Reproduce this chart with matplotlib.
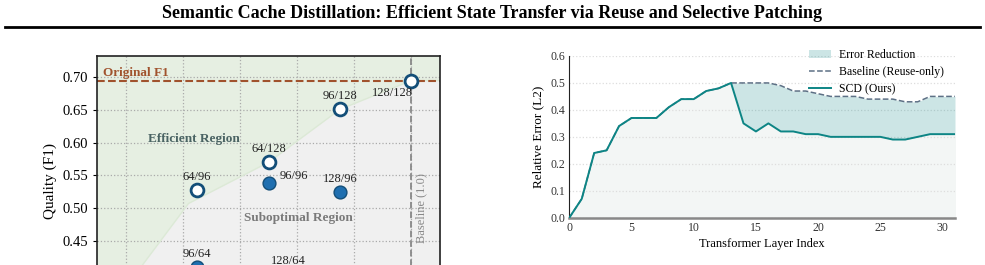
import numpy as np
import matplotlib
matplotlib.use("Agg")
import matplotlib.pyplot as plt

plt.rcParams['font.family'] = ['Liberation Serif', 'DejaVu Serif']

# left panel: configs (retrieve/patch), relative cost, F1
configs = ["128/128", "96/128", "64/128", "64/96", "96/96", "128/96", "96/64", "128/64"]
cost = [1.0, 0.875, 0.75, 0.625, 0.75, 0.875, 0.625, 0.75]
f1 = [0.695, 0.651, 0.570, 0.528, 0.539, 0.525, 0.410, 0.402]
on_front = [True, True, True, True, False, False, False, False]
original_f1 = 0.695
frontier_x = [0.45, 0.61, 0.75, 0.875, 1.0, 1.05]
frontier_y = [0.32, 0.507, 0.570, 0.651, 0.695, 0.695]

# right panel: per-layer relative error
layers = list(range(32))
err_baseline = [0.0, 0.07, 0.24, 0.25, 0.34, 0.37, 0.37, 0.37, 0.41, 0.44, 0.44, 0.47, 0.48, 0.50,
                0.50, 0.50, 0.50, 0.49, 0.47, 0.47, 0.46, 0.45, 0.45, 0.45, 0.44, 0.44, 0.44, 0.43,
                0.43, 0.45, 0.45, 0.45]
err_scd = [0.0, 0.07, 0.24, 0.25, 0.34, 0.37, 0.37, 0.37, 0.41, 0.44, 0.44, 0.47, 0.48, 0.50,
           0.35, 0.32, 0.35, 0.32, 0.32, 0.31, 0.31, 0.30, 0.30, 0.30, 0.30, 0.30, 0.29, 0.29,
           0.30, 0.31, 0.31, 0.31]

W, H = 985, 265
fig = plt.figure(figsize=(W / 100, H / 100), dpi=100)

fig.text(0.5, 1 - 14 / H, "Semantic Cache Distillation: Efficient State Transfer via Reuse and Selective Patching",
         ha='center', va='center', fontsize=13, fontweight='bold')
fig.add_artist(plt.Line2D([5 / W, 980 / W], [1 - 27 / H, 1 - 27 / H], color='black', lw=2))

# ---- left panel (bottom part falls outside the picture, like the reference)
ylo, yhi = 0.35, 0.7326
px_per = 654.0
top_px = 56
bot_px = top_px + (yhi - ylo) * px_per
ax1 = fig.add_axes([97 / W, 1 - bot_px / H, (440 - 97) / W, (bot_px - top_px) / H])
ax1.set_xlim(0.45, 1.05)
ax1.set_ylim(ylo, yhi)

fx = np.array(frontier_x)
fy = np.array(frontier_y)
ax1.fill_between(fx, fy, yhi, color='#e6efe2', zorder=0)
ax1.fill_between(fx, ylo, fy, color='#f0f0f0', zorder=0)
ax1.plot(fx, fy, color='#dce9d6', lw=1, zorder=1)

ax1.set_xticks([0.5, 0.6, 0.7, 0.8, 0.9, 1.0])
ax1.set_yticks([0.40, 0.45, 0.50, 0.55, 0.60, 0.65, 0.70])
ax1.grid(True, linestyle=':', color='#aaaaaa', lw=0.9)
ax1.set_axisbelow(True)
for s in ax1.spines.values():
    s.set_linewidth(1.2)
    s.set_color('#222222')
ax1.tick_params(labelsize=10.5, length=3)
ax1.set_ylabel("Quality (F1)", fontsize=11)

ax1.axhline(original_f1, color='#a0522d', ls='--', lw=1.5, zorder=2)
ax1.text(0.46, original_f1 + 0.002, "Original F1", color='#a0522d', fontsize=9.5,
         fontweight='bold', va='bottom')
ax1.axvline(1.0, color='#888888', ls='--', lw=1.3, zorder=2)
ax1.text(1.017, 0.50, "Baseline (1.0)", color='#888888', fontsize=9, rotation=90,
         ha='center', va='center')

ax1.text(0.62, 0.606, "Efficient Region", color='#4a6363', fontsize=9.5, fontweight='bold',
         ha='center', va='center')
ax1.text(0.803, 0.485, "Suboptimal Region", color='#7a7a7a', fontsize=9.5, fontweight='bold',
         ha='center', va='center')

offsets = {"128/128": (-14, -9), "96/96": (18, 5), "128/64": (14, 8)}
for c, x, y, fr in zip(configs, cost, f1, on_front):
    if fr:
        ax1.scatter(x, y, s=85, facecolor='white', edgecolor='#134e78', linewidth=2, zorder=4)
    else:
        ax1.scatter(x, y, s=85, facecolor='#1f6fb0', edgecolor='#134e78', linewidth=1, zorder=4)
    dx, dy = offsets.get(c, (0, 9.5))
    ax1.annotate(c, (x, y), xytext=(dx, dy), textcoords='offset points', ha='center',
                 va='center', fontsize=9, color='#222222', zorder=5)

# ---- right panel
ax2 = fig.add_axes([569.3 / W, 1 - 217.7 / H, (955 - 569.3) / W, (217.7 - 56) / H])
ax2.set_xlim(0, 31)
ax2.set_ylim(0, 0.6)
ax2.fill_between(layers, 0, err_scd, color='#f3f6f5', zorder=0)
ax2.fill_between(layers, err_scd, err_baseline, color='#008080', alpha=0.2, lw=0,
                 label='Error Reduction', zorder=1)
ax2.plot(layers, err_baseline, color='#5d7085', ls='--', lw=1.1, label='Baseline (Reuse-only)', zorder=2)
ax2.plot(layers, err_scd, color='#0d8585', lw=1.4, label='SCD (Ours)', zorder=3)
ax2.set_yticks(np.arange(0, 0.61, 0.1))
ax2.set_xticks([0, 5, 10, 15, 20, 25, 30])
ax2.grid(True, axis='y', linestyle=':', color='#dddddd', lw=0.9)
ax2.set_axisbelow(True)
ax2.spines['top'].set_visible(False)
ax2.spines['right'].set_visible(False)
ax2.spines['left'].set_color('#222222')
ax2.spines['bottom'].set_color('#888888')
ax2.spines['bottom'].set_linewidth(1.8)
ax2.tick_params(labelsize=8.5, length=0, pad=3, labelcolor='#333333')
ax2.set_xlabel("Transformer Layer Index", fontsize=9, labelpad=3)
ax2.set_ylabel("Relative Error (L2)", fontsize=9.5)
ax2.legend(loc='upper right', frameon=False, fontsize=8.5, bbox_to_anchor=(1.0, 1.11),
           handlelength=1.9, handletextpad=0.7, labelspacing=0.45)

fig.savefig("out.png", dpi=100)
